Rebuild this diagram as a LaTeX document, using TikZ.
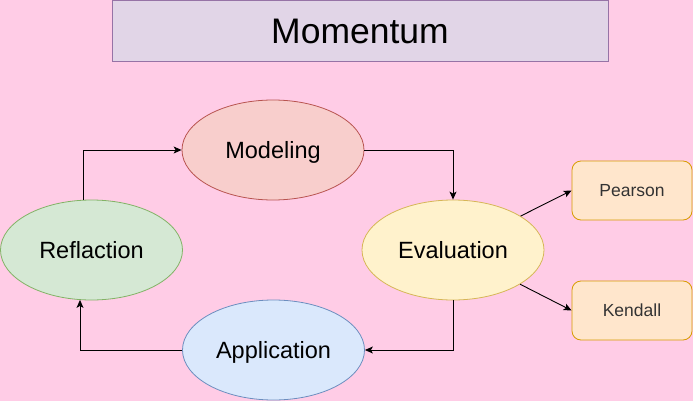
\documentclass[tikz,border=0pt]{standalone}
\usepackage{fontspec}
\setmainfont{Liberation Sans}
\usetikzlibrary{shapes.geometric,arrows.meta}
\definecolor{bgpink}{HTML}{FFCCE6}
\definecolor{titlefill}{HTML}{E1D5E7}
\definecolor{titledraw}{HTML}{9673A6}
\definecolor{redfill}{HTML}{F8CECC}
\definecolor{reddraw}{HTML}{B85450}
\definecolor{greenfill}{HTML}{D5E8D4}
\definecolor{greendraw}{HTML}{82B366}
\definecolor{yellowfill}{HTML}{FFF2CC}
\definecolor{yellowdraw}{HTML}{D6B656}
\definecolor{bluefill}{HTML}{DAE8FC}
\definecolor{bluedraw}{HTML}{6C8EBF}
\definecolor{orangefill}{HTML}{FFE6CC}
\definecolor{orangedraw}{HTML}{D79B00}
\tikzset{
  stage/.style={ellipse, minimum width=182pt, minimum height=100pt, inner sep=0pt, line width=0.8pt, font=\fontsize{23.5}{26}\selectfont, text height=16.9pt, text depth=0pt},
  metric/.style={rectangle, rounded corners=9pt, minimum width=120pt, minimum height=59pt, inner sep=0pt, line width=0.8pt, font=\fontsize{17.5}{20}\selectfont, text=black!80, text height=12.5pt, text depth=0pt},
  arr/.style={draw=black, line width=0.9pt, -{Stealth[length=8pt,width=7pt,inset=2pt]}}
}
\begin{document}
\begin{tikzpicture}[x=1pt,y=-1pt]
\fill[bgpink] (0,0) rectangle (693,401);
\useasboundingbox (0,0) rectangle (693,401);
\node[draw=titledraw, fill=titlefill, line width=0.9pt, minimum width=496pt, minimum height=61pt, inner sep=0pt, font=\fontsize{35.5}{40}\selectfont, text height=25.4pt, text depth=0pt] (title) at (360,30.5) {Momentum};
\node[stage, draw=reddraw, fill=redfill] (model) at (273,150) {Modeling};
\node[stage, draw=greendraw, fill=greenfill] (refl) at (91.5,250) {Reflaction};
\node[stage, draw=yellowdraw, fill=yellowfill] (eval) at (453,250) {Evaluation};
\node[stage, draw=bluedraw, fill=bluefill] (app) at (273.5,350) {Application};
\node[metric, draw=orangedraw, fill=orangefill] (pear) at (632,190.5) {Pearson};
\node[metric, draw=orangedraw, fill=orangefill] (kend) at (632,310.5) {Kendall};
\draw[arr] ([xshift=-8.5pt]refl.north) |- (model.west);
\draw[arr] (model.east) -| (eval.north);
\draw[arr] (eval.south) |- (app.east);
\draw[arr] (app.west) -| ([xshift=-11.5pt,yshift=0.5pt]refl.south);
\draw[arr] (eval) -- (pear.west);
\draw[arr] (eval) -- (kend.west);
\end{tikzpicture}
\end{document}
